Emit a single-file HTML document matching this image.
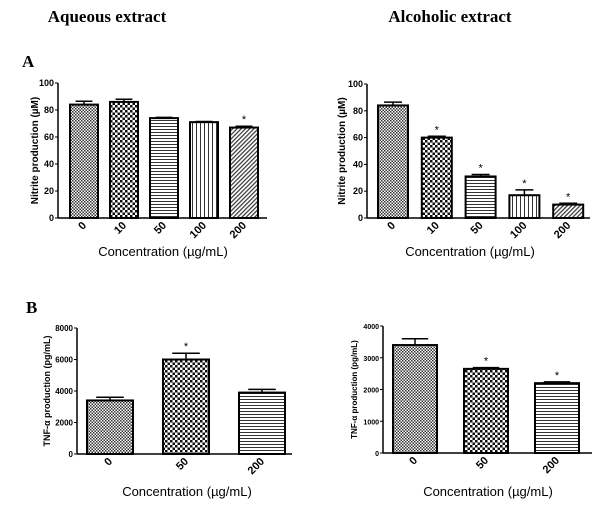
<!DOCTYPE html>
<html><head><meta charset="utf-8"><style>
body{margin:0;background:#fff;width:600px;height:532px;overflow:hidden}
svg{display:block}
.ttl{font-family:"Liberation Serif",serif;font-weight:bold}
.t{font-family:"Liberation Sans",sans-serif}
</style></head><body>
<svg id="s" width="600" height="532" xmlns="http://www.w3.org/2000/svg">
<defs>
<pattern id="p0" width="3" height="3" patternUnits="userSpaceOnUse"><rect width="3" height="3" fill="#fff"/><rect width="1.5" height="1.5" fill="#333"/><rect x="1.5" y="1.5" width="1.5" height="1.5" fill="#333"/></pattern>
<pattern id="p1" width="5" height="5" patternUnits="userSpaceOnUse"><rect width="5" height="5" fill="#fff"/><rect width="2.5" height="2.5" fill="#111"/><rect x="2.5" y="2.5" width="2.5" height="2.5" fill="#111"/></pattern>
<pattern id="p2" width="4" height="3" patternUnits="userSpaceOnUse"><rect width="4" height="3" fill="#fff"/><rect width="4" height="1" fill="#333"/></pattern>
<pattern id="p3" width="4" height="4" patternUnits="userSpaceOnUse"><rect width="4" height="4" fill="#fff"/><rect width="1" height="4" fill="#333"/></pattern>
<pattern id="p4" width="3" height="3" patternUnits="userSpaceOnUse" patternTransform="rotate(45)"><rect width="3" height="3" fill="#fff"/><rect width="1.2" height="3" fill="#333"/></pattern>
</defs>
<text class="ttl" x="107" y="22" font-size="17" text-anchor="middle">Aqueous extract</text>
<text class="ttl" x="450" y="22" font-size="17" text-anchor="middle">Alcoholic extract</text>
<text class="ttl" x="22" y="67" font-size="17">A</text>
<text class="ttl" x="26" y="313" font-size="17">B</text>
</svg>
<script>
const catsA=["0","10","50","100","200"];
const aqNitrite=[84,86,74,71,67];
const aqNitriteErr=[2.5,2,0.5,0.5,1];
const aqNitriteSig=[0,0,0,0,1];
const alNitrite=[84,60,31,17,10];
const alNitriteErr=[2.5,1,1.5,4,1];
const alNitriteSig=[0,1,1,1,1];
const ticksA=[0,20,40,60,80,100];
const catsB=["0","50","200"];
const aqTnf=[3400,6000,3900];
const aqTnfErr=[200,400,200];
const aqTnfSig=[0,1,0];
const alTnf=[3400,2650,2200];
const alTnfErr=[200,40,40];
const alTnfSig=[0,1,1];
const ticksB1=[0,2000,4000,6000,8000];
const ticksB2=[0,1000,2000,3000,4000];
const NS="http://www.w3.org/2000/svg";
const svg=document.getElementById('s');
function mk(tag,at,p){const e=document.createElementNS(NS,tag);for(const k in at)e.setAttribute(k,at[k]);(p||svg).appendChild(e);return e;}
function chart(o){
 const g=mk('g',{});
 
 
 const ymax=o.ticks[o.ticks.length-1];
 const y=v=>o.y0-(v/ymax)*(o.y0-o.yTop);
 const x=i=>o.first+i*o.step;
 const ax=mk('line',{x1:o.ax,y1:o.yTop,x2:o.ax,y2:o.y0,stroke:'#000','stroke-width':1.5},g);
 
 const xa=mk('line',{x1:o.ax,y1:o.y0,x2:o.axEnd,y2:o.y0,stroke:'#000','stroke-width':1.5},g);
 
 o.ticks.forEach(t=>{mk('line',{x1:o.ax-3,y1:y(t),x2:o.ax,y2:y(t),stroke:'#000'},g);
  const tl=mk('text',{x:o.ax-4,y:y(t)+3,'font-size':o.tfs,'text-anchor':'end','font-weight':'bold',class:'t'},g);tl.textContent=t;
  });
 o.cats.forEach((c,i)=>{
  const cx=x(i),v=o.vals[i],e=o.err[i];
  const ey=y(v+e);
  mk('line',{x1:cx,y1:y(v),x2:cx,y2:ey,stroke:'#000','stroke-width':1.5},g);
  mk('line',{x1:cx-o.w*0.3,y1:ey,x2:cx+o.w*0.3,y2:ey,stroke:'#000','stroke-width':1.5},g);
  const b=mk('rect',{x:cx-o.w/2,y:y(v),width:o.w,height:o.y0-y(v),fill:'url(#'+o.pats[i]+')',stroke:'#000','stroke-width':2},g);
  
  if(o.sig[i]){const s=mk('text',{x:cx,y:ey-3,'font-size':11,'text-anchor':'middle',class:'t'},g);s.textContent='*';
   }
  const tl=mk('text',{x:cx+3,y:o.y0+8,'font-size':11,'font-weight':'bold','text-anchor':'end',class:'t',transform:'rotate(-45 '+(cx+3)+' '+(o.y0+8)+')'},g);
  tl.textContent=c;
 });
 const xt=mk('text',{x:o.xtX,y:o.xtY,'font-size':13,'text-anchor':'middle',class:'t'},g);xt.textContent='Concentration (µg/mL)';
 
 const cy=(o.yTop+o.y0)/2;
 const yt=mk('text',{x:o.ytX,y:cy,'font-size':o.yfs,'font-weight':'bold','text-anchor':'middle',class:'t',transform:'rotate(-90 '+o.ytX+' '+cy+')'},g);yt.textContent=o.ytitle;
 
}
chart({name:'aqueous-nitrite-chart',cats:catsA,vals:aqNitrite,err:aqNitriteErr,sig:aqNitriteSig,ticks:ticksA,pats:['p0','p1','p2','p3','p4'],
 ax:58,axEnd:267,yTop:83,y0:218,first:84,step:40,w:28,tfs:9,xtX:163,xtY:256,ytX:38,yfs:10,ytitle:'Nitrite production (µM)'});
chart({name:'alcoholic-nitrite-chart',cats:catsA,vals:alNitrite,err:alNitriteErr,sig:alNitriteSig,ticks:ticksA,pats:['p0','p1','p2','p3','p4'],
 ax:367,axEnd:590,yTop:84,y0:218,first:393,step:43.8,w:30,tfs:9,xtX:470,xtY:256,ytX:345,yfs:10,ytitle:'Nitrite production (µM)'});
chart({name:'aqueous-tnf-chart',cats:catsB,vals:aqTnf,err:aqTnfErr,sig:aqTnfSig,ticks:ticksB1,pats:['p0','p1','p2'],
 ax:77,axEnd:292,yTop:328,y0:454,first:110,step:76,w:46,tfs:8,xtX:187,xtY:496,ytX:50,yfs:9,ytitle:'TNF-α production (pg/mL)'});
chart({name:'alcoholic-tnf-chart',cats:catsB,vals:alTnf,err:alTnfErr,sig:alTnfSig,ticks:ticksB2,pats:['p0','p1','p2'],
 ax:383,axEnd:592,yTop:326,y0:453,first:415,step:71,w:44,tfs:7,xtX:488,xtY:496,ytX:357,yfs:8,ytitle:'TNF-α production (pg/mL)'});
</script>
</body></html>
